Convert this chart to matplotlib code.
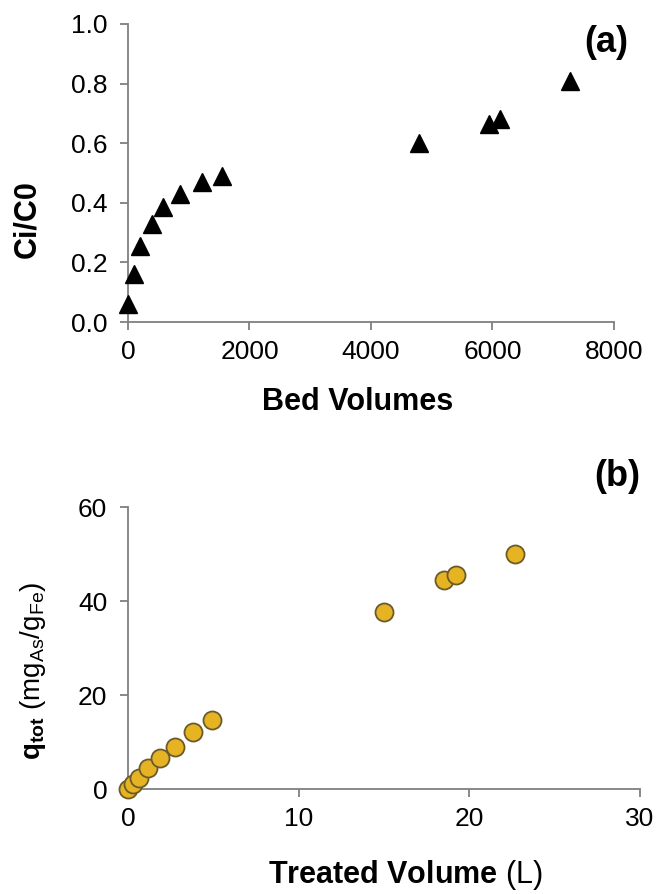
import numpy as np
import matplotlib
matplotlib.use('Agg')
import matplotlib.pyplot as plt

matplotlib.rcParams.update({'font.family': 'Liberation Sans',
                            'mathtext.fontset': 'custom',
                            'mathtext.rm': 'Liberation Sans',
                            'mathtext.bf': 'Liberation Sans:bold',
                            'mathtext.it': 'Liberation Sans:italic'})

# (a) breakthrough curve
bed_volumes = [0, 100, 200, 400, 580, 860, 1220, 1550, 4790, 5940, 6120, 7280]
ci_c0 = [0.06, 0.16, 0.255, 0.33, 0.385, 0.43, 0.47, 0.49, 0.60, 0.665, 0.68, 0.81]

# (b) cumulative uptake
treated_volume = [0.0, 0.3, 0.65, 1.2, 1.9, 2.75, 3.8, 4.9, 15.0, 18.5, 19.2, 22.7]
q_tot = [0.0, 1.0, 2.3, 4.5, 6.6, 9.0, 12.1, 14.7, 37.6, 44.4, 45.5, 50.0]

spine_col = '#7f7f7f'
tick_fs = 19
label_fs = 22

fig = plt.figure(figsize=(6.57, 8.94), dpi=100)
ax1 = fig.add_axes([0.1948, 0.6398, 0.7397, 0.3334])
ax2 = fig.add_axes([0.1948, 0.1174, 0.7793, 0.3154])

for ax in (ax1, ax2):
    ax.spines['top'].set_visible(False)
    ax.spines['right'].set_visible(False)
    for s in ('left', 'bottom'):
        ax.spines[s].set_color(spine_col)
        ax.spines[s].set_linewidth(1.3)
    ax.tick_params(axis='both', direction='out', length=6, width=1.3,
                   color=spine_col, labelsize=tick_fs)
    ax.tick_params(axis='x', pad=7)
    ax.tick_params(axis='y', pad=9)

ax1.plot(bed_volumes, ci_c0, linestyle='none', marker='^', ms=13,
         color='black', clip_on=False, zorder=3)
ax1.set_xlim(0, 8000)
ax1.set_ylim(0, 1.0)
ax1.set_xticks(np.arange(0, 8001, 2000))
ax1.set_yticks(np.arange(0, 1.01, 0.2))
ax1.set_yticklabels(['%.1f' % v for v in np.arange(0, 1.01, 0.2)])
ax1.set_xlabel('Bed Volumes', fontsize=label_fs, fontweight='bold')
ax1.xaxis.set_label_coords(0.472, -0.218)
ax1.set_ylabel('Ci/C0', fontsize=label_fs, fontweight='bold')
ax1.yaxis.set_label_coords(-0.177, 0.345)
fig.text(606 / 657, 1 - 43 / 894, '(a)', fontsize=26, fontweight='bold',
         ha='center', va='center')

ax2.plot(treated_volume, q_tot, linestyle='none', marker='o', ms=13,
         markerfacecolor='#e6b422', markeredgecolor='#6b5a2a', mew=1.3,
         clip_on=False, zorder=3)
ax2.set_xlim(0, 30)
ax2.set_ylim(0, 60)
ax2.set_xticks([0, 10, 20, 30])
ax2.set_yticks([0, 20, 40, 60])
ax2.set_xlabel(r'$\mathbf{Treated\ Volume}$ (L)', fontsize=label_fs)
ax2.xaxis.set_label_coords(0.541, -0.245)
ax2.set_ylabel(r'$\mathbf{q_{tot}}$ (mg$_{\mathrm{As}}$/g$_{\mathrm{Fe}}$)', fontsize=20)
ax2.yaxis.set_label_coords(-0.156, 0.418)
fig.text(617 / 657, 1 - 477 / 894, '(b)', fontsize=26, fontweight='bold',
         ha='center', va='center')

fig.savefig('out.png', dpi=100)
